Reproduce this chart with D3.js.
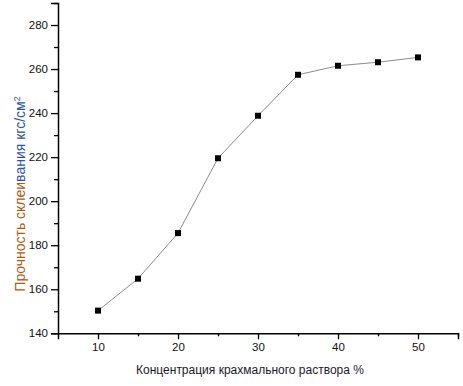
<!DOCTYPE html>
<html><head><meta charset="utf-8">
<script src="https://cdn.jsdelivr.net/npm/d3@7"></script>
<style>body{margin:0;background:#fff}svg{display:block}text{font-family:"Liberation Sans",Arial,sans-serif}</style>
</head><body><svg id="c" width="463" height="386"></svg>
<script>
const concentrations = [10, 15, 20, 25, 30, 35, 40, 45, 50];
const strength = [150.3, 164.8, 185.5, 219.5, 238.8, 257.4, 261.5, 263.1, 265.3];
const xTicks = [10, 20, 30, 40, 50];
const xMinor = [15, 25, 35, 45, 55];
const yTicks = [140, 160, 180, 200, 220, 240, 260, 280];
const yMinor = [150, 170, 190, 210, 230, 250, 270, 290];
const xTitle = "Концентрация крахмального раствора %";

const svg = d3.select("#c");
const x = d3.scaleLinear().domain([5, 55]).range([58, 458]);
const y = d3.scaleLinear().domain([140, 290]).range([333.3, 3]);

const gx = svg.append("g").attr("transform", "translate(0,333.3)")
  .call(d3.axisBottom(x).tickValues(xTicks).tickSize(6).tickPadding(4).tickFormat(d3.format("d")));
const gxm = svg.append("g").attr("transform", "translate(0,333.3)")
  .call(d3.axisBottom(x).tickValues(xMinor).tickSize(3).tickFormat(""));
const gy = svg.append("g").attr("transform", "translate(58,0)")
  .call(d3.axisLeft(y).tickValues(yTicks).tickSize(7).tickPadding(3).tickFormat(d3.format("d")));
const gym = svg.append("g").attr("transform", "translate(58,0)")
  .call(d3.axisLeft(y).tickValues(yMinor).tickSize(4).tickFormat(""));
[gx, gxm, gy, gym].forEach(g => {
  g.selectAll("path.domain").attr("stroke", "#000").attr("stroke-width", 1.5);
  g.selectAll(".tick line").attr("stroke", "#000").attr("stroke-width", 1.3);
  g.selectAll("text").attr("fill", "#111").style("font-size", "11.5px")
    .style("font-family", '"Liberation Sans", Arial, sans-serif');
});
gxm.select("path.domain").remove();
gym.select("path.domain").remove();

const line = d3.line().x((d, i) => x(concentrations[i])).y(d => y(d));
svg.append("path").datum(strength).attr("d", line)
  .attr("fill", "none").attr("stroke", "#8c8c8c").attr("stroke-width", 1);

svg.selectAll("rect.pt").data(strength).join("rect").attr("class", "pt")
  .attr("x", (d, i) => x(concentrations[i]) - 3).attr("y", d => y(d) - 3)
  .attr("width", 6).attr("height", 6).attr("fill", "#000");

svg.append("text").attr("x", 250).attr("y", 374).attr("text-anchor", "middle")
  .style("font-size", "12px").attr("fill", "#1a1a2a").text(xTitle);

const yt = svg.append("text").attr("transform", "translate(25,194) rotate(-90)")
  .attr("text-anchor", "middle").style("font-size", "14px");
yt.append("tspan").attr("fill", "#b05a10").text("Прочность склеи");
yt.append("tspan").attr("fill", "#2a55a5").text("вания кгс/см");
yt.append("tspan").attr("fill", "#2a55a5").attr("dy", -5).style("font-size", "9px").text("2");
</script></body></html>
